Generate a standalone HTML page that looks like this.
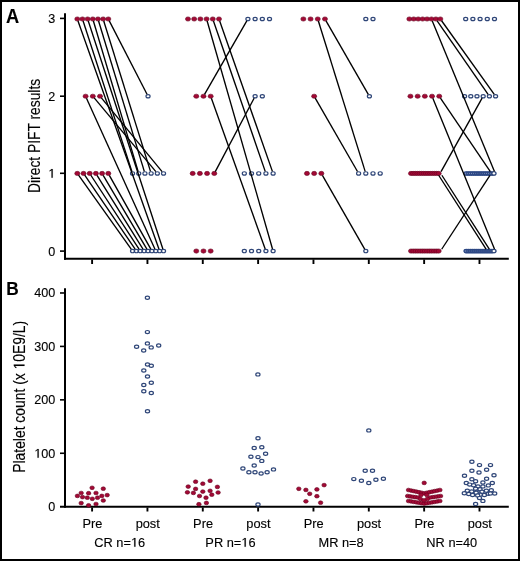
<!DOCTYPE html>
<html><head><meta charset="utf-8"><style>
html,body{margin:0;padding:0;background:#fff;}
svg{display:block;will-change:transform;}
text{font-family:"Liberation Sans",sans-serif;fill:#000;stroke:#000;stroke-width:0.12px;}
</style></head><body>
<svg width="520" height="561" viewBox="0 0 520 561">
<rect x="0" y="0" width="520" height="561" fill="#fff"/>

<g stroke="#000" stroke-width="2" stroke-linecap="butt">
<line x1="65" y1="13.2" x2="65" y2="259.8"/><line x1="64" y1="258.8" x2="508.8" y2="258.8"/><line x1="65" y1="288.2" x2="65" y2="507.7"/><line x1="60" y1="506.7" x2="508.8" y2="506.7"/>
</g>
<g stroke="#000" stroke-width="1.6" stroke-linecap="butt">
<line x1="60" y1="251.10" x2="64" y2="251.10"/><line x1="60" y1="173.30" x2="64" y2="173.30"/><line x1="60" y1="96.20" x2="64" y2="96.20"/><line x1="60" y1="18.40" x2="64" y2="18.40"/><line x1="60" y1="453.27" x2="64" y2="453.27"/><line x1="60" y1="399.84" x2="64" y2="399.84"/><line x1="60" y1="346.41" x2="64" y2="346.41"/><line x1="60" y1="292.98" x2="64" y2="292.98"/><line x1="92.10" y1="259.5" x2="92.10" y2="264" stroke-width="1.9"/><line x1="92.10" y1="507.5" x2="92.10" y2="511.5" stroke-width="1.9"/><line x1="147.44" y1="259.5" x2="147.44" y2="264" stroke-width="1.9"/><line x1="147.44" y1="507.5" x2="147.44" y2="511.5" stroke-width="1.9"/><line x1="202.78" y1="259.5" x2="202.78" y2="264" stroke-width="1.9"/><line x1="202.78" y1="507.5" x2="202.78" y2="511.5" stroke-width="1.9"/><line x1="258.12" y1="259.5" x2="258.12" y2="264" stroke-width="1.9"/><line x1="258.12" y1="507.5" x2="258.12" y2="511.5" stroke-width="1.9"/><line x1="313.46" y1="259.5" x2="313.46" y2="264" stroke-width="1.9"/><line x1="313.46" y1="507.5" x2="313.46" y2="511.5" stroke-width="1.9"/><line x1="368.80" y1="259.5" x2="368.80" y2="264" stroke-width="1.9"/><line x1="368.80" y1="507.5" x2="368.80" y2="511.5" stroke-width="1.9"/><line x1="424.14" y1="259.5" x2="424.14" y2="264" stroke-width="1.9"/><line x1="424.14" y1="507.5" x2="424.14" y2="511.5" stroke-width="1.9"/><line x1="479.48" y1="259.5" x2="479.48" y2="264" stroke-width="1.9"/><line x1="479.48" y1="507.5" x2="479.48" y2="511.5" stroke-width="1.9"/>
</g>
<g fill="#a30935" stroke="#660320" stroke-width="0.6">
<ellipse cx="77.30" cy="19.00" rx="2.55" ry="2.12"/><ellipse cx="82.47" cy="19.00" rx="2.55" ry="2.12"/><ellipse cx="87.63" cy="19.00" rx="2.55" ry="2.12"/><ellipse cx="92.80" cy="19.00" rx="2.55" ry="2.12"/><ellipse cx="97.97" cy="19.00" rx="2.55" ry="2.12"/><ellipse cx="103.13" cy="19.00" rx="2.55" ry="2.12"/><ellipse cx="108.30" cy="19.00" rx="2.55" ry="2.12"/><ellipse cx="85.60" cy="96.25" rx="2.55" ry="2.12"/><ellipse cx="92.80" cy="96.25" rx="2.55" ry="2.12"/><ellipse cx="100.00" cy="96.25" rx="2.55" ry="2.12"/><ellipse cx="77.30" cy="173.45" rx="2.55" ry="2.12"/><ellipse cx="83.50" cy="173.45" rx="2.55" ry="2.12"/><ellipse cx="89.70" cy="173.45" rx="2.55" ry="2.12"/><ellipse cx="95.90" cy="173.45" rx="2.55" ry="2.12"/><ellipse cx="102.10" cy="173.45" rx="2.55" ry="2.12"/><ellipse cx="108.30" cy="173.45" rx="2.55" ry="2.12"/><ellipse cx="187.98" cy="19.00" rx="2.55" ry="2.12"/><ellipse cx="194.18" cy="19.00" rx="2.55" ry="2.12"/><ellipse cx="200.38" cy="19.00" rx="2.55" ry="2.12"/><ellipse cx="206.58" cy="19.00" rx="2.55" ry="2.12"/><ellipse cx="212.78" cy="19.00" rx="2.55" ry="2.12"/><ellipse cx="218.98" cy="19.00" rx="2.55" ry="2.12"/><ellipse cx="196.28" cy="96.25" rx="2.55" ry="2.12"/><ellipse cx="203.48" cy="96.25" rx="2.55" ry="2.12"/><ellipse cx="210.68" cy="96.25" rx="2.55" ry="2.12"/><ellipse cx="192.68" cy="173.45" rx="2.55" ry="2.12"/><ellipse cx="199.88" cy="173.45" rx="2.55" ry="2.12"/><ellipse cx="207.08" cy="173.45" rx="2.55" ry="2.12"/><ellipse cx="214.28" cy="173.45" rx="2.55" ry="2.12"/><ellipse cx="196.28" cy="251.05" rx="2.55" ry="2.12"/><ellipse cx="203.48" cy="251.05" rx="2.55" ry="2.12"/><ellipse cx="210.68" cy="251.05" rx="2.55" ry="2.12"/><ellipse cx="303.36" cy="19.00" rx="2.55" ry="2.12"/><ellipse cx="310.56" cy="19.00" rx="2.55" ry="2.12"/><ellipse cx="317.76" cy="19.00" rx="2.55" ry="2.12"/><ellipse cx="324.96" cy="19.00" rx="2.55" ry="2.12"/><ellipse cx="314.16" cy="96.25" rx="2.55" ry="2.12"/><ellipse cx="306.96" cy="173.45" rx="2.55" ry="2.12"/><ellipse cx="314.16" cy="173.45" rx="2.55" ry="2.12"/><ellipse cx="321.36" cy="173.45" rx="2.55" ry="2.12"/><ellipse cx="409.34" cy="19.00" rx="2.55" ry="2.12"/><ellipse cx="413.77" cy="19.00" rx="2.55" ry="2.12"/><ellipse cx="418.20" cy="19.00" rx="2.55" ry="2.12"/><ellipse cx="422.63" cy="19.00" rx="2.55" ry="2.12"/><ellipse cx="427.05" cy="19.00" rx="2.55" ry="2.12"/><ellipse cx="431.48" cy="19.00" rx="2.55" ry="2.12"/><ellipse cx="435.91" cy="19.00" rx="2.55" ry="2.12"/><ellipse cx="440.34" cy="19.00" rx="2.55" ry="2.12"/><ellipse cx="410.44" cy="96.25" rx="2.55" ry="2.12"/><ellipse cx="417.64" cy="96.25" rx="2.55" ry="2.12"/><ellipse cx="424.84" cy="96.25" rx="2.55" ry="2.12"/><ellipse cx="432.04" cy="96.25" rx="2.55" ry="2.12"/><ellipse cx="439.24" cy="96.25" rx="2.55" ry="2.12"/><ellipse cx="410.99" cy="173.45" rx="2.55" ry="2.12"/><ellipse cx="413.12" cy="173.45" rx="2.55" ry="2.12"/><ellipse cx="415.25" cy="173.45" rx="2.55" ry="2.12"/><ellipse cx="417.38" cy="173.45" rx="2.55" ry="2.12"/><ellipse cx="419.51" cy="173.45" rx="2.55" ry="2.12"/><ellipse cx="421.64" cy="173.45" rx="2.55" ry="2.12"/><ellipse cx="423.77" cy="173.45" rx="2.55" ry="2.12"/><ellipse cx="425.91" cy="173.45" rx="2.55" ry="2.12"/><ellipse cx="428.04" cy="173.45" rx="2.55" ry="2.12"/><ellipse cx="430.17" cy="173.45" rx="2.55" ry="2.12"/><ellipse cx="432.30" cy="173.45" rx="2.55" ry="2.12"/><ellipse cx="434.43" cy="173.45" rx="2.55" ry="2.12"/><ellipse cx="436.56" cy="173.45" rx="2.55" ry="2.12"/><ellipse cx="438.69" cy="173.45" rx="2.55" ry="2.12"/><ellipse cx="410.99" cy="251.05" rx="2.55" ry="2.12"/><ellipse cx="413.30" cy="251.05" rx="2.55" ry="2.12"/><ellipse cx="415.61" cy="251.05" rx="2.55" ry="2.12"/><ellipse cx="417.91" cy="251.05" rx="2.55" ry="2.12"/><ellipse cx="420.22" cy="251.05" rx="2.55" ry="2.12"/><ellipse cx="422.53" cy="251.05" rx="2.55" ry="2.12"/><ellipse cx="424.84" cy="251.05" rx="2.55" ry="2.12"/><ellipse cx="427.15" cy="251.05" rx="2.55" ry="2.12"/><ellipse cx="429.46" cy="251.05" rx="2.55" ry="2.12"/><ellipse cx="431.76" cy="251.05" rx="2.55" ry="2.12"/><ellipse cx="434.07" cy="251.05" rx="2.55" ry="2.12"/><ellipse cx="436.38" cy="251.05" rx="2.55" ry="2.12"/><ellipse cx="438.69" cy="251.05" rx="2.55" ry="2.12"/><ellipse cx="92.10" cy="487.80" rx="2.25" ry="1.85"/><ellipse cx="103.30" cy="488.70" rx="2.25" ry="1.85"/><ellipse cx="81.20" cy="493.00" rx="2.25" ry="1.85"/><ellipse cx="88.60" cy="493.20" rx="2.25" ry="1.85"/><ellipse cx="96.00" cy="493.00" rx="2.25" ry="1.85"/><ellipse cx="77.40" cy="495.90" rx="2.25" ry="1.85"/><ellipse cx="82.50" cy="497.10" rx="2.25" ry="1.85"/><ellipse cx="87.30" cy="497.70" rx="2.25" ry="1.85"/><ellipse cx="92.30" cy="498.80" rx="2.25" ry="1.85"/><ellipse cx="97.50" cy="497.70" rx="2.25" ry="1.85"/><ellipse cx="101.80" cy="495.90" rx="2.25" ry="1.85"/><ellipse cx="107.20" cy="495.10" rx="2.25" ry="1.85"/><ellipse cx="103.30" cy="500.50" rx="2.25" ry="1.85"/><ellipse cx="81.20" cy="503.10" rx="2.25" ry="1.85"/><ellipse cx="88.60" cy="505.30" rx="2.25" ry="1.85"/><ellipse cx="96.00" cy="504.00" rx="2.25" ry="1.85"/><ellipse cx="195.60" cy="481.70" rx="2.25" ry="1.85"/><ellipse cx="210.10" cy="480.80" rx="2.25" ry="1.85"/><ellipse cx="202.80" cy="483.70" rx="2.25" ry="1.85"/><ellipse cx="188.20" cy="486.60" rx="2.25" ry="1.85"/><ellipse cx="217.40" cy="486.90" rx="2.25" ry="1.85"/><ellipse cx="195.60" cy="488.90" rx="2.25" ry="1.85"/><ellipse cx="187.40" cy="492.30" rx="2.25" ry="1.85"/><ellipse cx="193.40" cy="492.90" rx="2.25" ry="1.85"/><ellipse cx="202.80" cy="491.60" rx="2.25" ry="1.85"/><ellipse cx="210.10" cy="490.80" rx="2.25" ry="1.85"/><ellipse cx="218.10" cy="492.50" rx="2.25" ry="1.85"/><ellipse cx="211.80" cy="494.70" rx="2.25" ry="1.85"/><ellipse cx="199.50" cy="496.00" rx="2.25" ry="1.85"/><ellipse cx="206.00" cy="497.70" rx="2.25" ry="1.85"/><ellipse cx="198.90" cy="504.20" rx="2.25" ry="1.85"/><ellipse cx="206.40" cy="502.90" rx="2.25" ry="1.85"/><ellipse cx="298.80" cy="488.80" rx="2.25" ry="1.85"/><ellipse cx="305.90" cy="489.90" rx="2.25" ry="1.85"/><ellipse cx="316.90" cy="489.40" rx="2.25" ry="1.85"/><ellipse cx="324.10" cy="485.10" rx="2.25" ry="1.85"/><ellipse cx="309.70" cy="493.80" rx="2.25" ry="1.85"/><ellipse cx="316.90" cy="496.20" rx="2.25" ry="1.85"/><ellipse cx="305.90" cy="501.30" rx="2.25" ry="1.85"/><ellipse cx="320.60" cy="502.70" rx="2.25" ry="1.85"/><ellipse cx="424.20" cy="482.90" rx="2.25" ry="1.85"/><ellipse cx="408.48" cy="490.00" rx="2.25" ry="1.85"/><ellipse cx="411.10" cy="490.55" rx="2.25" ry="1.85"/><ellipse cx="413.72" cy="491.10" rx="2.25" ry="1.85"/><ellipse cx="416.34" cy="491.65" rx="2.25" ry="1.85"/><ellipse cx="418.96" cy="492.20" rx="2.25" ry="1.85"/><ellipse cx="421.58" cy="492.75" rx="2.25" ry="1.85"/><ellipse cx="424.20" cy="493.30" rx="2.25" ry="1.85"/><ellipse cx="426.82" cy="492.75" rx="2.25" ry="1.85"/><ellipse cx="429.44" cy="492.20" rx="2.25" ry="1.85"/><ellipse cx="432.06" cy="491.65" rx="2.25" ry="1.85"/><ellipse cx="434.68" cy="491.10" rx="2.25" ry="1.85"/><ellipse cx="437.30" cy="490.55" rx="2.25" ry="1.85"/><ellipse cx="439.92" cy="490.00" rx="2.25" ry="1.85"/><ellipse cx="408.48" cy="501.00" rx="2.25" ry="1.85"/><ellipse cx="411.10" cy="501.43" rx="2.25" ry="1.85"/><ellipse cx="413.72" cy="501.87" rx="2.25" ry="1.85"/><ellipse cx="416.34" cy="502.30" rx="2.25" ry="1.85"/><ellipse cx="418.96" cy="502.73" rx="2.25" ry="1.85"/><ellipse cx="421.58" cy="503.17" rx="2.25" ry="1.85"/><ellipse cx="424.20" cy="503.60" rx="2.25" ry="1.85"/><ellipse cx="426.82" cy="503.17" rx="2.25" ry="1.85"/><ellipse cx="429.44" cy="502.73" rx="2.25" ry="1.85"/><ellipse cx="432.06" cy="502.30" rx="2.25" ry="1.85"/><ellipse cx="434.68" cy="501.87" rx="2.25" ry="1.85"/><ellipse cx="437.30" cy="501.43" rx="2.25" ry="1.85"/><ellipse cx="439.92" cy="501.00" rx="2.25" ry="1.85"/><ellipse cx="407.60" cy="496.00" rx="2.25" ry="1.85"/><ellipse cx="440.60" cy="496.00" rx="2.25" ry="1.85"/><ellipse cx="410.20" cy="496.38" rx="2.25" ry="1.85"/><ellipse cx="438.00" cy="496.38" rx="2.25" ry="1.85"/><ellipse cx="412.80" cy="496.76" rx="2.25" ry="1.85"/><ellipse cx="435.40" cy="496.76" rx="2.25" ry="1.85"/><ellipse cx="415.40" cy="497.14" rx="2.25" ry="1.85"/><ellipse cx="432.80" cy="497.14" rx="2.25" ry="1.85"/><ellipse cx="418.00" cy="497.52" rx="2.25" ry="1.85"/><ellipse cx="430.20" cy="497.52" rx="2.25" ry="1.85"/><ellipse cx="421.00" cy="494.90" rx="2.25" ry="1.85"/><ellipse cx="426.80" cy="494.90" rx="2.25" ry="1.85"/><ellipse cx="420.40" cy="498.90" rx="2.25" ry="1.85"/><ellipse cx="427.40" cy="498.90" rx="2.25" ry="1.85"/><ellipse cx="423.90" cy="500.30" rx="2.25" ry="1.85"/>
</g>
<g fill="#fff" stroke="#2f4678" stroke-width="1.2">
<ellipse cx="148.04" cy="96.25" rx="2.05" ry="1.68"/><ellipse cx="132.54" cy="173.45" rx="2.05" ry="1.68"/><ellipse cx="138.74" cy="173.45" rx="2.05" ry="1.68"/><ellipse cx="144.94" cy="173.45" rx="2.05" ry="1.68"/><ellipse cx="151.14" cy="173.45" rx="2.05" ry="1.68"/><ellipse cx="157.34" cy="173.45" rx="2.05" ry="1.68"/><ellipse cx="163.54" cy="173.45" rx="2.05" ry="1.68"/><ellipse cx="132.54" cy="251.05" rx="2.05" ry="1.68"/><ellipse cx="136.41" cy="251.05" rx="2.05" ry="1.68"/><ellipse cx="140.29" cy="251.05" rx="2.05" ry="1.68"/><ellipse cx="144.16" cy="251.05" rx="2.05" ry="1.68"/><ellipse cx="148.04" cy="251.05" rx="2.05" ry="1.68"/><ellipse cx="151.91" cy="251.05" rx="2.05" ry="1.68"/><ellipse cx="155.79" cy="251.05" rx="2.05" ry="1.68"/><ellipse cx="159.66" cy="251.05" rx="2.05" ry="1.68"/><ellipse cx="163.54" cy="251.05" rx="2.05" ry="1.68"/><ellipse cx="247.92" cy="19.00" rx="2.05" ry="1.68"/><ellipse cx="255.12" cy="19.00" rx="2.05" ry="1.68"/><ellipse cx="262.32" cy="19.00" rx="2.05" ry="1.68"/><ellipse cx="269.52" cy="19.00" rx="2.05" ry="1.68"/><ellipse cx="255.12" cy="96.25" rx="2.05" ry="1.68"/><ellipse cx="262.32" cy="96.25" rx="2.05" ry="1.68"/><ellipse cx="244.32" cy="173.45" rx="2.05" ry="1.68"/><ellipse cx="251.52" cy="173.45" rx="2.05" ry="1.68"/><ellipse cx="258.72" cy="173.45" rx="2.05" ry="1.68"/><ellipse cx="265.92" cy="173.45" rx="2.05" ry="1.68"/><ellipse cx="273.12" cy="173.45" rx="2.05" ry="1.68"/><ellipse cx="244.32" cy="251.05" rx="2.05" ry="1.68"/><ellipse cx="251.52" cy="251.05" rx="2.05" ry="1.68"/><ellipse cx="258.72" cy="251.05" rx="2.05" ry="1.68"/><ellipse cx="265.92" cy="251.05" rx="2.05" ry="1.68"/><ellipse cx="273.12" cy="251.05" rx="2.05" ry="1.68"/><ellipse cx="365.80" cy="19.00" rx="2.05" ry="1.68"/><ellipse cx="373.00" cy="19.00" rx="2.05" ry="1.68"/><ellipse cx="369.40" cy="96.25" rx="2.05" ry="1.68"/><ellipse cx="358.60" cy="173.45" rx="2.05" ry="1.68"/><ellipse cx="365.80" cy="173.45" rx="2.05" ry="1.68"/><ellipse cx="373.00" cy="173.45" rx="2.05" ry="1.68"/><ellipse cx="380.20" cy="173.45" rx="2.05" ry="1.68"/><ellipse cx="365.80" cy="251.05" rx="2.05" ry="1.68"/><ellipse cx="465.68" cy="19.00" rx="2.05" ry="1.68"/><ellipse cx="472.88" cy="19.00" rx="2.05" ry="1.68"/><ellipse cx="480.08" cy="19.00" rx="2.05" ry="1.68"/><ellipse cx="487.28" cy="19.00" rx="2.05" ry="1.68"/><ellipse cx="494.48" cy="19.00" rx="2.05" ry="1.68"/><ellipse cx="464.58" cy="96.25" rx="2.05" ry="1.68"/><ellipse cx="470.78" cy="96.25" rx="2.05" ry="1.68"/><ellipse cx="476.98" cy="96.25" rx="2.05" ry="1.68"/><ellipse cx="483.18" cy="96.25" rx="2.05" ry="1.68"/><ellipse cx="489.38" cy="96.25" rx="2.05" ry="1.68"/><ellipse cx="495.58" cy="96.25" rx="2.05" ry="1.68"/><rect x="463.63" y="171.35" width="32.90" height="4.2" rx="2" fill="#9aa8cc" stroke="none"/><ellipse cx="466.23" cy="173.45" rx="2.15" ry="1.7" fill="none" stroke="#2d4884" stroke-width="1.25"/><ellipse cx="468.36" cy="173.45" rx="2.15" ry="1.7" fill="none" stroke="#2d4884" stroke-width="1.25"/><ellipse cx="470.49" cy="173.45" rx="2.15" ry="1.7" fill="none" stroke="#2d4884" stroke-width="1.25"/><ellipse cx="472.62" cy="173.45" rx="2.15" ry="1.7" fill="none" stroke="#2d4884" stroke-width="1.25"/><ellipse cx="474.75" cy="173.45" rx="2.15" ry="1.7" fill="none" stroke="#2d4884" stroke-width="1.25"/><ellipse cx="476.88" cy="173.45" rx="2.15" ry="1.7" fill="none" stroke="#2d4884" stroke-width="1.25"/><ellipse cx="479.01" cy="173.45" rx="2.15" ry="1.7" fill="none" stroke="#2d4884" stroke-width="1.25"/><ellipse cx="481.15" cy="173.45" rx="2.15" ry="1.7" fill="none" stroke="#2d4884" stroke-width="1.25"/><ellipse cx="483.28" cy="173.45" rx="2.15" ry="1.7" fill="none" stroke="#2d4884" stroke-width="1.25"/><ellipse cx="485.41" cy="173.45" rx="2.15" ry="1.7" fill="none" stroke="#2d4884" stroke-width="1.25"/><ellipse cx="487.54" cy="173.45" rx="2.15" ry="1.7" fill="none" stroke="#2d4884" stroke-width="1.25"/><ellipse cx="489.67" cy="173.45" rx="2.15" ry="1.7" fill="none" stroke="#2d4884" stroke-width="1.25"/><ellipse cx="491.80" cy="173.45" rx="2.15" ry="1.7" fill="none" stroke="#2d4884" stroke-width="1.25"/><ellipse cx="493.93" cy="173.45" rx="2.05" ry="1.68"/><rect x="463.63" y="248.95" width="32.90" height="4.2" rx="2" fill="#9aa8cc" stroke="none"/><ellipse cx="466.23" cy="251.05" rx="2.15" ry="1.7" fill="none" stroke="#2d4884" stroke-width="1.25"/><ellipse cx="468.21" cy="251.05" rx="2.15" ry="1.7" fill="none" stroke="#2d4884" stroke-width="1.25"/><ellipse cx="470.19" cy="251.05" rx="2.15" ry="1.7" fill="none" stroke="#2d4884" stroke-width="1.25"/><ellipse cx="472.17" cy="251.05" rx="2.15" ry="1.7" fill="none" stroke="#2d4884" stroke-width="1.25"/><ellipse cx="474.14" cy="251.05" rx="2.15" ry="1.7" fill="none" stroke="#2d4884" stroke-width="1.25"/><ellipse cx="476.12" cy="251.05" rx="2.15" ry="1.7" fill="none" stroke="#2d4884" stroke-width="1.25"/><ellipse cx="478.10" cy="251.05" rx="2.15" ry="1.7" fill="none" stroke="#2d4884" stroke-width="1.25"/><ellipse cx="480.08" cy="251.05" rx="2.15" ry="1.7" fill="none" stroke="#2d4884" stroke-width="1.25"/><ellipse cx="482.06" cy="251.05" rx="2.15" ry="1.7" fill="none" stroke="#2d4884" stroke-width="1.25"/><ellipse cx="484.04" cy="251.05" rx="2.15" ry="1.7" fill="none" stroke="#2d4884" stroke-width="1.25"/><ellipse cx="486.02" cy="251.05" rx="2.15" ry="1.7" fill="none" stroke="#2d4884" stroke-width="1.25"/><ellipse cx="487.99" cy="251.05" rx="2.15" ry="1.7" fill="none" stroke="#2d4884" stroke-width="1.25"/><ellipse cx="489.97" cy="251.05" rx="2.15" ry="1.7" fill="none" stroke="#2d4884" stroke-width="1.25"/><ellipse cx="491.95" cy="251.05" rx="2.15" ry="1.7" fill="none" stroke="#2d4884" stroke-width="1.25"/><ellipse cx="493.93" cy="251.05" rx="2.05" ry="1.68"/><ellipse cx="147.40" cy="297.70" rx="2.1" ry="1.6"/><ellipse cx="147.40" cy="332.10" rx="2.1" ry="1.6"/><ellipse cx="147.40" cy="343.40" rx="2.1" ry="1.6"/><ellipse cx="136.60" cy="346.70" rx="2.1" ry="1.6"/><ellipse cx="151.20" cy="347.40" rx="2.1" ry="1.6"/><ellipse cx="158.70" cy="345.50" rx="2.1" ry="1.6"/><ellipse cx="143.70" cy="350.50" rx="2.1" ry="1.6"/><ellipse cx="147.50" cy="364.50" rx="2.1" ry="1.6"/><ellipse cx="151.30" cy="365.80" rx="2.1" ry="1.6"/><ellipse cx="143.80" cy="370.50" rx="2.1" ry="1.6"/><ellipse cx="147.50" cy="376.50" rx="2.1" ry="1.6"/><ellipse cx="151.30" cy="382.80" rx="2.1" ry="1.6"/><ellipse cx="143.80" cy="385.00" rx="2.1" ry="1.6"/><ellipse cx="143.80" cy="391.30" rx="2.1" ry="1.6"/><ellipse cx="151.30" cy="393.00" rx="2.1" ry="1.6"/><ellipse cx="147.50" cy="411.30" rx="2.1" ry="1.6"/><ellipse cx="257.90" cy="374.40" rx="2.1" ry="1.6"/><ellipse cx="258.00" cy="438.20" rx="2.1" ry="1.6"/><ellipse cx="254.20" cy="448.00" rx="2.1" ry="1.6"/><ellipse cx="261.80" cy="447.30" rx="2.1" ry="1.6"/><ellipse cx="265.60" cy="453.80" rx="2.1" ry="1.6"/><ellipse cx="250.90" cy="456.80" rx="2.1" ry="1.6"/><ellipse cx="258.00" cy="457.10" rx="2.1" ry="1.6"/><ellipse cx="261.80" cy="460.90" rx="2.1" ry="1.6"/><ellipse cx="254.20" cy="465.50" rx="2.1" ry="1.6"/><ellipse cx="242.90" cy="468.50" rx="2.1" ry="1.6"/><ellipse cx="248.90" cy="472.30" rx="2.1" ry="1.6"/><ellipse cx="255.00" cy="472.30" rx="2.1" ry="1.6"/><ellipse cx="261.10" cy="473.50" rx="2.1" ry="1.6"/><ellipse cx="267.10" cy="472.30" rx="2.1" ry="1.6"/><ellipse cx="273.50" cy="469.40" rx="2.1" ry="1.6"/><ellipse cx="258.00" cy="504.50" rx="2.1" ry="1.6"/><ellipse cx="368.80" cy="430.40" rx="2.1" ry="1.6"/><ellipse cx="365.20" cy="470.80" rx="2.1" ry="1.6"/><ellipse cx="372.50" cy="470.80" rx="2.1" ry="1.6"/><ellipse cx="353.80" cy="479.10" rx="2.1" ry="1.6"/><ellipse cx="361.40" cy="480.80" rx="2.1" ry="1.6"/><ellipse cx="368.80" cy="483.00" rx="2.1" ry="1.6"/><ellipse cx="375.90" cy="479.80" rx="2.1" ry="1.6"/><ellipse cx="383.40" cy="478.70" rx="2.1" ry="1.6"/><ellipse cx="471.90" cy="461.70" rx="2.1" ry="1.6"/><ellipse cx="479.50" cy="465.10" rx="2.1" ry="1.6"/><ellipse cx="490.50" cy="465.10" rx="2.1" ry="1.6"/><ellipse cx="486.60" cy="469.70" rx="2.1" ry="1.6"/><ellipse cx="471.90" cy="470.70" rx="2.1" ry="1.6"/><ellipse cx="479.00" cy="472.50" rx="2.1" ry="1.6"/><ellipse cx="464.50" cy="475.80" rx="2.1" ry="1.6"/><ellipse cx="494.00" cy="475.30" rx="2.1" ry="1.6"/><ellipse cx="471.90" cy="479.30" rx="2.1" ry="1.6"/><ellipse cx="486.60" cy="478.70" rx="2.1" ry="1.6"/><ellipse cx="475.60" cy="481.30" rx="2.1" ry="1.6"/><ellipse cx="466.30" cy="483.00" rx="2.1" ry="1.6"/><ellipse cx="482.90" cy="482.50" rx="2.1" ry="1.6"/><ellipse cx="492.30" cy="483.00" rx="2.1" ry="1.6"/><ellipse cx="469.70" cy="484.60" rx="2.1" ry="1.6"/><ellipse cx="473.60" cy="485.20" rx="2.1" ry="1.6"/><ellipse cx="478.00" cy="486.40" rx="2.1" ry="1.6"/><ellipse cx="482.90" cy="486.40" rx="2.1" ry="1.6"/><ellipse cx="488.30" cy="485.40" rx="2.1" ry="1.6"/><ellipse cx="475.60" cy="488.80" rx="2.1" ry="1.6"/><ellipse cx="480.00" cy="489.30" rx="2.1" ry="1.6"/><ellipse cx="467.30" cy="490.80" rx="2.1" ry="1.6"/><ellipse cx="471.70" cy="491.50" rx="2.1" ry="1.6"/><ellipse cx="477.00" cy="491.80" rx="2.1" ry="1.6"/><ellipse cx="482.00" cy="491.80" rx="2.1" ry="1.6"/><ellipse cx="486.40" cy="490.80" rx="2.1" ry="1.6"/><ellipse cx="491.30" cy="490.30" rx="2.1" ry="1.6"/><ellipse cx="464.30" cy="493.20" rx="2.1" ry="1.6"/><ellipse cx="468.70" cy="494.00" rx="2.1" ry="1.6"/><ellipse cx="472.60" cy="495.00" rx="2.1" ry="1.6"/><ellipse cx="476.10" cy="492.70" rx="2.1" ry="1.6"/><ellipse cx="480.30" cy="494.70" rx="2.1" ry="1.6"/><ellipse cx="484.40" cy="495.00" rx="2.1" ry="1.6"/><ellipse cx="488.30" cy="493.70" rx="2.1" ry="1.6"/><ellipse cx="494.70" cy="493.50" rx="2.1" ry="1.6"/><ellipse cx="490.40" cy="493.40" rx="2.1" ry="1.6"/><ellipse cx="477.70" cy="495.40" rx="2.1" ry="1.6"/><ellipse cx="479.50" cy="498.10" rx="2.1" ry="1.6"/><ellipse cx="482.90" cy="500.90" rx="2.1" ry="1.6"/><ellipse cx="475.60" cy="504.00" rx="2.1" ry="1.6"/>
</g>
<g stroke="#000" stroke-width="1.35" stroke-linecap="butt">
<line x1="78.00" y1="20.97" x2="158.93" y2="248.99"/><line x1="88.28" y1="20.98" x2="162.86" y2="248.98"/><line x1="83.11" y1="20.98" x2="131.87" y2="171.38"/><line x1="93.39" y1="20.99" x2="138.12" y2="171.36"/><line x1="98.57" y1="20.99" x2="144.31" y2="171.37"/><line x1="103.75" y1="20.98" x2="150.49" y2="171.37"/><line x1="109.27" y1="20.88" x2="147.03" y2="94.28"/><line x1="86.47" y1="98.17" x2="154.88" y2="249.04"/><line x1="94.20" y1="97.93" x2="155.87" y2="171.69"/><line x1="101.39" y1="97.94" x2="162.09" y2="171.68"/><line x1="78.55" y1="175.21" x2="131.23" y2="249.21"/><line x1="84.71" y1="175.23" x2="135.14" y2="249.19"/><line x1="90.87" y1="175.25" x2="139.06" y2="249.17"/><line x1="97.03" y1="175.27" x2="142.98" y2="249.15"/><line x1="103.19" y1="175.29" x2="146.90" y2="249.13"/><line x1="109.34" y1="175.31" x2="150.82" y2="249.11"/><line x1="207.15" y1="20.99" x2="272.52" y2="248.96"/><line x1="213.46" y1="20.97" x2="265.21" y2="171.39"/><line x1="219.67" y1="20.97" x2="272.40" y2="171.39"/><line x1="204.54" y1="94.40" x2="246.81" y2="20.93"/><line x1="211.38" y1="98.21" x2="265.19" y2="248.99"/><line x1="215.27" y1="171.58" x2="254.08" y2="98.21"/><line x1="318.38" y1="20.98" x2="365.15" y2="171.37"/><line x1="326.02" y1="20.85" x2="368.29" y2="94.32"/><line x1="315.22" y1="98.10" x2="357.49" y2="171.52"/><line x1="322.42" y1="175.30" x2="364.69" y2="249.11"/><line x1="432.28" y1="20.94" x2="494.46" y2="171.42"/><line x1="437.14" y1="20.77" x2="488.09" y2="94.39"/><line x1="441.60" y1="20.76" x2="494.26" y2="94.41"/><line x1="432.83" y1="98.19" x2="494.47" y2="249.02"/><line x1="440.45" y1="98.03" x2="490.33" y2="171.58"/><line x1="441.04" y1="171.59" x2="482.09" y2="98.19"/><line x1="438.66" y1="175.26" x2="486.09" y2="249.16"/><line x1="441.86" y1="175.26" x2="489.29" y2="249.16"/><line x1="441.68" y1="249.25" x2="489.97" y2="175.33"/>
</g>
<text x="55.30" y="255.55" text-anchor="end" font-size="12.6">0</text><text id="t1_0" x="55.30" y="177.75" text-anchor="end" font-size="12.6"> </text><path transform="translate(48.284 177.750) scale(0.00615 -0.00615)" d="M 520,0 L 520,1237 L 212,1010 L 212,1180 L 545,1409 L 721,1409 L 721,0 Z" fill="#000" stroke="#000" stroke-width="19.5"/><text x="55.30" y="100.65" text-anchor="end" font-size="12.6">2</text><text x="55.30" y="22.85" text-anchor="end" font-size="12.6">3</text><text x="55.30" y="511.15" text-anchor="end" font-size="12.6">0</text><text id="t1_1" x="55.30" y="457.72" text-anchor="end" font-size="12.6"> 00</text><path transform="translate(34.284 457.720) scale(0.00615 -0.00615)" d="M 520,0 L 520,1237 L 212,1010 L 212,1180 L 545,1409 L 721,1409 L 721,0 Z" fill="#000" stroke="#000" stroke-width="19.5"/><text x="55.30" y="404.29" text-anchor="end" font-size="12.6">200</text><text x="55.30" y="350.86" text-anchor="end" font-size="12.6">300</text><text x="55.30" y="297.43" text-anchor="end" font-size="12.6">400</text><text x="92.40" y="527.60" text-anchor="middle" font-size="12.8">Pre</text><text x="147.74" y="527.60" text-anchor="middle" font-size="12.8">post</text><text x="203.08" y="527.60" text-anchor="middle" font-size="12.8">Pre</text><text x="258.42" y="527.60" text-anchor="middle" font-size="12.8">post</text><text x="313.76" y="527.60" text-anchor="middle" font-size="12.8">Pre</text><text x="369.10" y="527.60" text-anchor="middle" font-size="12.8">post</text><text x="424.44" y="527.60" text-anchor="middle" font-size="12.8">Pre</text><text x="479.78" y="527.60" text-anchor="middle" font-size="12.8">post</text><text id="t1_2" x="119.77" y="546.80" text-anchor="middle" font-size="12.8">CR n= 6</text><path transform="translate(130.958 546.800) scale(0.00625 -0.00625)" d="M 520,0 L 520,1237 L 212,1010 L 212,1180 L 545,1409 L 721,1409 L 721,0 Z" fill="#000" stroke="#000" stroke-width="19.2"/><text id="t1_3" x="230.45" y="546.80" text-anchor="middle" font-size="12.8">PR n= 6</text><path transform="translate(241.286 546.800) scale(0.00625 -0.00625)" d="M 520,0 L 520,1237 L 212,1010 L 212,1180 L 545,1409 L 721,1409 L 721,0 Z" fill="#000" stroke="#000" stroke-width="19.2"/><text x="341.13" y="546.80" text-anchor="middle" font-size="12.8">MR n=8</text><text x="451.81" y="546.80" text-anchor="middle" font-size="12.8">NR n=40</text>
<text transform="translate(39.6 135.9) rotate(-90) scale(0.886 1)" text-anchor="middle" font-size="15.6">Direct PIFT results</text><g transform="translate(24.5 396.8) rotate(-90) scale(0.89 1)"><text id="t1_4" x="0.00" y="0.00" text-anchor="middle" font-size="15.6">Platelet count (x  0E9/L)</text><path transform="translate(30.735 0.000) scale(0.00762 -0.00762)" d="M 520,0 L 520,1237 L 212,1010 L 212,1180 L 545,1409 L 721,1409 L 721,0 Z" fill="#000" stroke="#000" stroke-width="15.8"/></g><text transform="translate(5.9 23.1) scale(0.94 1)" font-size="19.4" font-weight="bold">A</text><text transform="translate(6.3 294.7) scale(0.91 1)" font-size="19" font-weight="bold">B</text>
<rect x="1" y="1" width="518" height="559" fill="none" stroke="#000" stroke-width="2"/>
</svg>
</body></html>
